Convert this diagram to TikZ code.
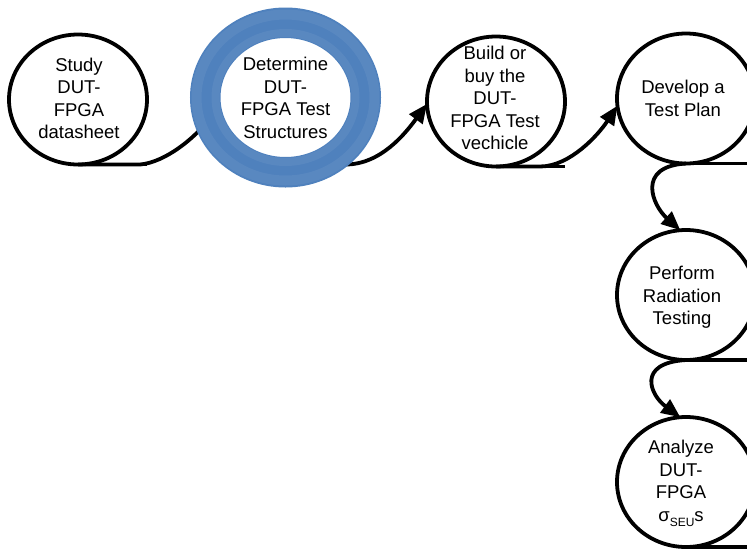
\documentclass[tikz,border=0pt]{standalone}
\usepackage{fontspec}
\setmainfont{Liberation Sans}
\usetikzlibrary{shapes.geometric,arrows.meta,calc}
\pgfdeclarelayer{front}
\pgfsetlayers{main,front}
\definecolor{ringblue}{RGB}{79,129,189}

\begin{document}
\begin{tikzpicture}[x=1pt,y=-1pt,
  stage/.style={ellipse, draw=black, line width=3.8pt, minimum width=138pt,
    minimum height=130pt, inner sep=0pt, outer sep=0pt},
  focus/.style={ellipse, draw=ringblue, fill=white, line width=30.5pt,
    minimum width=160.5pt, minimum height=149.5pt, inner sep=0pt, outer sep=0pt},
  caption/.style={align=center, inner sep=0pt,
    font=\fontsize{18.5}{22.5}\selectfont},
  flow/.style={line width=3.8pt, -{Triangle[length=19pt,width=16pt]}},
  base/.style={line width=3.8pt}
]
\clip (0,0) rectangle (747,550);
\fill[white] (0,0) rectangle (747,550);

% highlighted stage (drawn on the front layer so it hides the connector ends)
\begin{pgfonlayer}{front}
  \node[focus] (c2) at (285.5,97.5) {};
  \draw[white, opacity=0.06, line width=10pt] (c2.center) ellipse [x radius=89, y radius=83];
  \draw[white, opacity=0.06, line width=8pt] (c2.center) ellipse [x radius=70, y radius=64.5];
  \node[caption] (t2) at (285.5,98) {Determine\\DUT-\\FPGA Test\\Structures};
\end{pgfonlayer}

% process stages
\node[stage] (c1) at (78,99.5) {};
\node[stage] (c3) at (496,101.5) {};
\node[stage] (c4) at (686,98.5) {};
\node[stage] (c5) at (686,295) {};
\node[stage] (c6) at (686,482) {};

\node[caption] (t1) at (79,98.5) {Study\\DUT-\\FPGA\\datasheet};
\node[caption] (t3) at (495,98) {Build or\\buy the\\DUT-\\FPGA Test\\vechicle};
\node[caption] (t4) at (683,98.5) {Develop a\\Test Plan};
\node[caption] (t5) at (682,297.5) {Perform\\Radiation\\Testing};
\node[caption] (t6) at (681,483.5) {Analyze\\DUT-\\FPGA\\σ\raisebox{-0.3em}{\fontsize{12}{12}\selectfont SEU}s};

% hidden attachment points under the highlighted ring
\coordinate (c2w) at ($(c2.center)+(-67,8)$);
\coordinate (c2s) at ($(c2.center)+(0,67)$);

% base strokes along the bottom of each stage
\draw[base] (c1.south) -- (c1.south -| c1.east);
\draw[base] (c3.south) -- (c3.south -| c3.east);
\draw[base] (c4.south) -- (c4.south -| c4.east);
\draw[base] (c5.south) -- (c5.south -| c5.east);
\draw[base] (c6.south) -- (c6.south -| c6.east);

% connectors between stages
\draw[flow] (c1.south) -- ++(62,0) .. controls +(25,-2) and +(-23,32) .. (c2w);
\draw[flow] (c2s) -- ++(60,0) .. controls +(35,0) and +(-22,30) .. (c3.182);
\draw[flow] (c3.south) -- ++(44,0) .. controls +(30,0) and +(-19,29) .. (c4.186);
\draw[flow] (c4.south) .. controls +(-50,3) and +(-28,-25) .. (c5.95);
\draw[flow] (c5.south) .. controls +(-50,3) and +(-30,-22) .. (c6.95);
\end{tikzpicture}
\end{document}
